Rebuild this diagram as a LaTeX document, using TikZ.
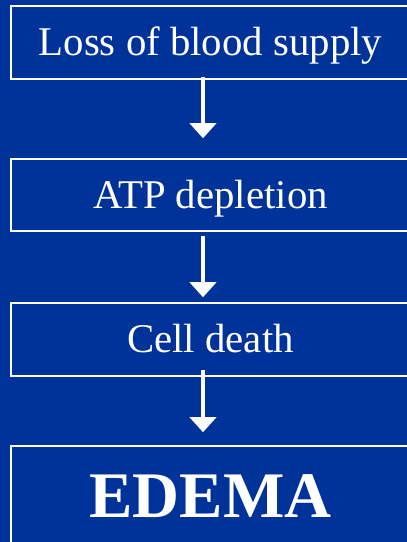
\documentclass[tikz,border=0pt]{standalone}
\usepackage{fontspec}
\setmainfont{Liberation Serif}
\usetikzlibrary{positioning,arrows.meta}
\definecolor{slideblue}{HTML}{003399}

\tikzstyle{stage}=[rectangle, minimum width=399pt, minimum height=73pt, inner sep=0pt, text centered, draw=white, line width=1.5pt, text=white, font=\fontsize{40.8}{48}\selectfont, text height=27pt, text depth=0pt]
\tikzstyle{arrow}=[white, line width=4.5pt, -{Triangle[width=26pt,length=15pt]}]

\begin{document}
\begin{tikzpicture}[x=1pt, y=1pt, node distance=80pt]
\useasboundingbox (0,0) rectangle (407,542);
\fill[slideblue] (0,0) rectangle (407,542);
\clip (0,0) rectangle (407,542);

\node(s0)[stage] at (210.5,499.5){Loss of blood supply};
\node(s1)[stage, below=78.5pt of s0, minimum height=72pt]{ATP depletion};
\node(s2)[stage, below=70.5pt of s1]{Cell death};
\node(s3)[stage, below=68.5pt of s2, minimum height=100pt, font=\bfseries\fontsize{65}{74}\selectfont, text height=43pt]{EDEMA};

\draw[arrow, shorten <=-3pt, shorten >=20pt]([xshift=-7.5pt]s0.south)--([xshift=-7.5pt]s1.north);
\draw[arrow, shorten <=4pt, shorten >=5pt]([xshift=-7.5pt]s1.south)--([xshift=-7.5pt]s2.north);
\draw[arrow, shorten <=-7pt, shorten >=13pt]([xshift=-7.5pt]s2.south)--([xshift=-7.5pt]s3.north);

\end{tikzpicture}
\end{document}
